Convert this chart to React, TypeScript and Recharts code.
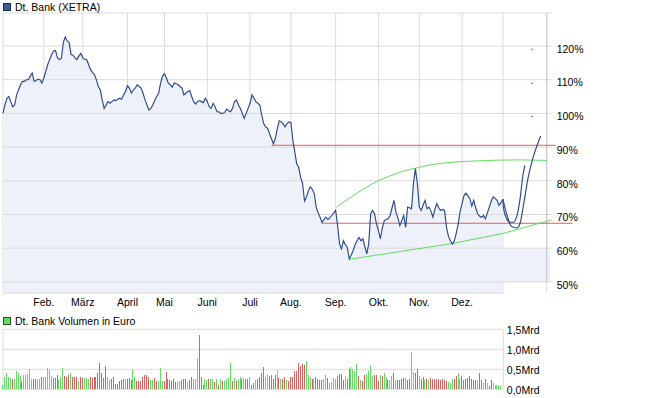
import React from "react";
import {
  ComposedChart,
  Area,
  Line,
  Bar,
  XAxis,
  YAxis,
  CartesianGrid,
  ReferenceLine,
  ReferenceArea,
  ReferenceDot,
} from "recharts";

const FONT = "'Liberation Sans', Arial, sans-serif";
const BLUE = "#2b4989";
const FILL = "#eef1f9";
const GRID = "#dadada";
const RED = "#dd5f5f";
const GREEN = "#62dc62";

// trading day index of the first day of each month (2011), 257 = Jan 2012
const monthTicks = [0, 21, 41, 64, 83, 105, 127, 148, 171, 193, 214, 236, 257];
const monthLabels = ["", "Feb.", "März", "April", "Mai", "Juni", "Juli", "Aug.", "Sep.", "Okt.", "Nov.", "Dez.", ""];
const pctTicks = [50, 60, 70, 80, 90, 100, 110, 120];
const volTicks = [0, 0.5, 1, 1.5];

// closing price in % of the first day
const price = [
  100, 102.5, 104.5, 105, 103.5, 102, 102.5, 105.5, 107, 108.5,
  109.5, 109.5, 110, 110, 111, 112, 109.5, 109.8, 110.2, 110,
  109, 110.5, 112.5, 114.5, 116, 117.5, 118.5, 118.7, 116.5, 116,
  116.3, 121, 122.7, 121.5, 121, 117.5, 117.3, 116.5, 116, 117,
  117.8, 116.5, 116, 116, 114.5, 113, 112.2, 111.5, 110, 108,
  107, 104, 101.5, 102.5, 103.5, 103, 103.5, 104, 103.8, 104.2,
  104.5, 104.2, 105.5, 106.5, 108.2, 107.5, 106, 107, 107.5, 108.5,
  108, 107.5, 106, 104, 102.5, 101, 101.5, 102.5, 103.8, 105,
  106, 109, 111, 111.8, 110.5, 109, 108.5, 107.8, 109, 108.8,
  108.5, 108, 107.5, 105.5, 106, 106.5, 106.8, 105, 103.5, 102.8,
  103.5, 103.8, 103.5, 103.2, 104.5, 103.5, 102, 101.5, 103, 102,
  100.5, 100.5, 100, 100, 100.3, 101.3, 100.8, 100.5, 101.5, 103.5,
  104, 102.5, 101.5, 100, 98.5, 100, 101.5, 103, 105.5, 104.5,
  103.5, 103, 102.5, 99.5, 97, 96, 95.6, 94, 92.5, 91,
  92.6, 95.5, 97.8, 97.5, 96.9, 96, 97, 97.5, 97.3, 92,
  88.6, 85, 84, 81, 79.2, 74, 75.2, 77, 78.2, 77.5,
  76.2, 72.2, 70.5, 69.2, 67.7, 68.5, 69.2, 68.5, 69, 69.7,
  70.5, 71.2, 66.7, 61.3, 59.8, 62.2, 61, 60.2, 56.8, 58,
  59.3, 61, 62.2, 63.2, 62.2, 62.8, 60.5, 58.3, 61.3, 70.2,
  71.2, 70.2, 67.2, 65.2, 62.8, 66, 68.2, 68.5, 68.7, 69.7,
  72, 74.2, 70.7, 69, 66.7, 68.2, 69.7, 66.2, 72.2, 72,
  71.7, 79.2, 83.6, 79.2, 72.2, 71.2, 72.8, 74.2, 71.7, 72.2,
  71, 69.2, 71.5, 73.2, 72, 71.2, 71.5, 71.2, 66.2, 63.5,
  62.2, 61.2, 62.2, 64.5, 67.2, 71, 73.2, 75.7, 76.3, 75.5,
  74.7, 72.5, 74.2, 72, 70.2, 69.5, 69.2, 69.7, 68.7, 70.5,
  72.2, 74, 75.2, 74.8, 74.2, 72.7, 73.5, 74.5,
];

// drawn projection curves after the last day
const projInnerX = [257, 257.2, 258.9, 260.6, 262.3, 264, 265.7, 267.4, 268.3];
const projInnerY = [74.5, 72.2, 68.7, 67.7, 67.7, 69.2, 74.2, 82.1, 84.6];
const projOuterX = [257, 258.9, 261.5, 264, 265.7, 267.4, 270, 272.6, 275.6, 276.4];
const projOuterY = [74.5, 70.2, 66.4, 66, 67.2, 72.2, 81.1, 87.1, 92.1, 93.3];

// green resistance curve
const arcX = [171.5, 176.7, 181.8, 186.9, 192.1, 198.9, 205.8, 211.8, 219.5, 233.2, 243.5, 264, 279.5];
const arcY = [72.2, 74.3, 76.3, 78.1, 79.8, 81.4, 82.9, 83.7, 84.7, 85.6, 85.9, 86.2, 86.05];

// green support line
const supportX = [178.1, 231, 257.2, 282];
const supportY = [56.7, 61.4, 64.4, 68.4];

// volume in Mrd Euro, g = up day, r = down day
const volume = [
  0.12, 0.31, 0.41, 0.31, 0.28, 0.27, 0.26, 0.46, 0.41, 0.34,
  0.18, 0.35, 0.35, 0.39, 0.5, 0.26, 0.25, 0.26, 0.26, 0.26,
  0.31, 0.31, 0.31, 0.54, 0.49, 0.33, 0.28, 0.29, 0.35, 0.24,
  0.31, 0.53, 0.33, 0.31, 0.35, 0.41, 0.31, 0.31, 0.31, 0.2,
  0.31, 0.29, 0.29, 0.29, 0.27, 0.31, 0.29, 0.31, 0.31, 0.41,
  0.66, 0.41, 0.29, 0.58, 0.31, 0.24, 0.27, 0.31, 0.14, 0.14,
  0.22,
  0.24, 0.26, 0.26, 0.26, 0.29, 0.24, 0.49, 0.31, 0.22, 0.22,
  0.21, 0.31, 0.35, 0.35, 0.31, 0.24, 0.24, 0.29, 0.22, 0.22,
  0.53, 0.2, 0.21, 0.43, 0.27, 0.24, 0.22, 0.26, 0.18, 0.18,
  0.2,
  0.24, 0.27, 0.26, 0.18, 0.24, 0.31, 0.26, 0.26, 0.78, 1.36,
  0.31, 0.1, 0.26, 0.24, 0.26, 0.26, 0.26, 0.18, 0.26, 0.12,
  0.26, 0.22, 0.22, 0.26, 0.29, 0.66, 0.22, 0.28, 0.22, 0.26,
  0.31, 0.26, 0.29, 0.26, 0.26, 0.31, 0.12, 0.16, 0.24, 0.26,
  0.31, 0.41, 0.56, 0.31, 0.39, 0.34, 0.37, 0.26, 0.37, 0.49,
  0.28,
  0.26, 0.26, 0.31, 0.24, 0.22, 0.31, 0.31, 0.46, 0.46, 0.66,
  0.59, 0.64, 0.61, 0.7, 0.37, 0.31, 0.26, 0.26, 0.31, 0.26,
  0.23, 0.23, 0.27, 0.36, 0.29, 0.17, 0.19, 0.28, 0.25, 0.32,
  0.38, 0.38, 0.23, 0.32, 0.27, 0.5, 0.55, 0.5, 0.47, 0.63,
  0.33, 0.23, 0.22, 0.36, 0.38, 0.47, 0.61, 0.32, 0.36, 0.36,
  0.22, 0.36, 0.32, 0.42, 0.3, 0.23, 0.23, 0.32, 0.42, 0.23,
  0.23, 0.23, 0.25, 0.28, 0.28, 0.23, 0.27, 0.94, 0.44, 0.42,
  0.5, 0.32, 0.27, 0.3, 0.23, 0.27, 0.23, 0.28, 0.25, 0.27,
  0.27, 0.25, 0.23, 0.25, 0.23, 0.22, 0.19, 0.17, 0.27, 0.25,
  0.32, 0.4, 0.27, 0.32, 0.23, 0.25, 0.28, 0.32, 0.27, 0.23,
  0.23, 0.23, 0.4, 0.23, 0.17, 0.25, 0.15, 0.08, 0.23, 0.17,
  0.1, 0.1, 0.12, 0.09,
];
const volumeDir = [
  "gggggrgggg", "rgggggrrgg", "rgggggrrrg", "ggrrrgrrrg", "rrgggrrrrr", "rrrrggrrrr", "r",
  "rrgrrrggrr", "rrrrrggrrg", "ggrrrrrrrg", "g",
  "rrrgrrgggr", "rrggrggrgr", "grggggrgrg", "grgrrgrrgr", "rrrggrrrrg", "r",
  "grrgrrrrrr", "rrrgggrgrr",
  "rrggrggggr", "rrrgrrgggg", "rgrrggggrr", "rgrggrggrg", "rrrrgrrggr",
  "rgrrgrgrrr", "rrrrrrgggr", "rggrrrrrrr", "rgrrgrgrrg", "gggg",
].join("");

const priceData = price.map((v, i) => ({ i, v }));
const volData = volume.map((v, i) => ({ i, v, up: volumeDir[i] !== "r" }));
const toPts = (xs: number[], ys: number[]) => xs.map((x, k) => ({ i: x, v: ys[k] }));

const txt = { fontFamily: FONT, fontSize: 10.5, fill: "#000" };

const MonthTick = ({ x, y, payload }: any) => {
  const label = monthLabels[monthTicks.indexOf(payload.value)] || "";
  return (
    <text x={x} y={y + 6} dy="0.71em" textAnchor="middle" {...txt}>
      {label}
    </text>
  );
};

const PctTick = ({ x, y, payload }: any) => (
  <text x={x + 10} y={y + 3} dy="0.355em" textAnchor="start" {...txt}>
    {payload.value}%
  </text>
);

const VolTick = ({ x, y, payload }: any) => (
  <text x={x + 3.5} y={y + 1.3} dy="0.355em" textAnchor="start" {...txt}>
    {payload.value.toFixed(1).replace(".", ",")}Mrd
  </text>
);

const VolBar = (p: any) => {
  const { x, y, width, height, payload } = p;
  if (!height || height <= 0) return null;
  const top = Math.round(y);
  const bottom = Math.round(y + height);
  return (
    <rect
      x={Math.round(x + width / 2 - 0.5)}
      y={top}
      width={1}
      height={Math.max(1, bottom - top)}
      fill={payload.up ? GREEN : RED}
      shapeRendering="crispEdges"
    />
  );
};

export default function App() {
  return (
    <div style={{ position: "relative", width: 651, height: 398, background: "#fff" }}>
      <style>{"body{margin:0}"}</style>

      <div style={{ position: "absolute", left: 0, top: 0 }}>
        <ComposedChart
          width={651}
          height={310}
          data={priceData}
          margin={{ top: 13, right: 44.3, bottom: 0, left: 3 }}
        >
          <CartesianGrid horizontal={false} stroke={GRID} />
          <XAxis
            type="number"
            dataKey="i"
            domain={[0, 279.5]}
            ticks={monthTicks}
            interval={0}
            height={17}
            axisLine={false}
            tickLine={false}
            tickSize={0}
            tickMargin={0}
            tick={<MonthTick />}
          />
          <YAxis
            orientation="right"
            width={60}
            domain={[46.7, 129.8]}
            ticks={pctTicks}
            interval={0}
            axisLine={false}
            tickLine={false}
            tickSize={0}
            tickMargin={0}
            tick={<PctTick />}
          />
          {pctTicks.map((v) => (
            <ReferenceLine
              key={v}
              segment={[{ x: 0, y: v }, { x: 282.2, y: v }]}
              stroke={GRID}
              ifOverflow="visible"
            />
          ))}
          <ReferenceLine segment={[{ x: 0, y: 129.8 }, { x: 282.2, y: 129.8 }]} stroke={GRID} ifOverflow="visible" />
          <ReferenceLine segment={[{ x: 0, y: 46.7 }, { x: 257, y: 46.7 }]} stroke={GRID} ifOverflow="visible" />
          <ReferenceArea x1={255} x2={281.2} y1={50} y2={60} fill={FILL} fillOpacity={1} stroke="none" ifOverflow="visible" />
          <ReferenceLine segment={[{ x: 279.5, y: 129.8 }, { x: 279.5, y: 50 }]} stroke="#c4c4c4" ifOverflow="visible" />
          <Area
            type="linear"
            dataKey="v"
            stroke="none"
            fill={FILL}
            fillOpacity={1}
            isAnimationActive={false}
          />
          <ReferenceLine segment={[{ x: 138.1, y: 90.55 }, { x: 284.1, y: 90.55 }]} stroke={RED} ifOverflow="visible" />
          <ReferenceLine segment={[{ x: 163.8, y: 67.4 }, { x: 292.8, y: 67.4 }]} stroke={RED} ifOverflow="visible" />
          {supportX.slice(1).map((x, k) => (
            <ReferenceLine
              key={"s" + k}
              segment={[{ x: supportX[k], y: supportY[k] }, { x, y: supportY[k + 1] }]}
              stroke={GREEN}
              ifOverflow="visible"
            />
          ))}
          <Line
            data={toPts(arcX, arcY)}
            type="monotone"
            dataKey="v"
            stroke={GREEN}
            strokeWidth={1}
            dot={false}
            isAnimationActive={false}
          />
          <Line
            type="linear"
            dataKey="v"
            stroke={BLUE}
            strokeWidth={1.15}
            dot={false}
            isAnimationActive={false}
          />
          <Line
            data={toPts(projInnerX, projInnerY)}
            type="monotone"
            dataKey="v"
            stroke={BLUE}
            strokeWidth={1.15}
            dot={false}
            isAnimationActive={false}
          />
          <Line
            data={toPts(projOuterX, projOuterY)}
            type="monotone"
            dataKey="v"
            stroke={BLUE}
            strokeWidth={1.15}
            dot={false}
            isAnimationActive={false}
          />
          {[119.05, 108.96, 99.1].map((v) => (
            <ReferenceDot key={v} x={272} y={v} r={0.6} fill="#000" stroke="none" ifOverflow="visible" />
          ))}
        </ComposedChart>
      </div>

      <div style={{ position: "absolute", left: 0, top: 310 }}>
        <ComposedChart
          width={651}
          height={88}
          data={volData}
          margin={{ top: 19.3, right: 87.7, bottom: 8.7, left: 3 }}
        >
          <CartesianGrid stroke={GRID} />
          <XAxis
            type="number"
            dataKey="i"
            domain={[0, 257]}
            ticks={monthTicks}
            interval={0}
            height={0}
            axisLine={false}
            tickLine={false}
            tick={false}
          />
          <YAxis
            orientation="right"
            width={60}
            domain={[0, 1.5]}
            ticks={volTicks}
            interval={0}
            axisLine={false}
            tickLine={false}
            tickSize={0}
            tickMargin={0}
            tick={<VolTick />}
          />
          <Bar dataKey="v" barSize={1} shape={<VolBar />} isAnimationActive={false} />
        </ComposedChart>
      </div>

      <svg
        width={651}
        height={398}
        style={{ position: "absolute", left: 0, top: 0, pointerEvents: "none" }}
      >
        <rect x={3.5} y={3.5} width={7} height={7} fill="#3a5a9c" stroke="#1c2c50" />
        <text x={15} y={10.5} {...txt}>Dt. Bank (XETRA)</text>
        <rect x={3.5} y={317.5} width={7} height={7} fill={GREEN} stroke="#235a23" />
        <text x={15} y={325} {...txt}>Dt. Bank Volumen in Euro</text>
      </svg>
    </div>
  );
}
